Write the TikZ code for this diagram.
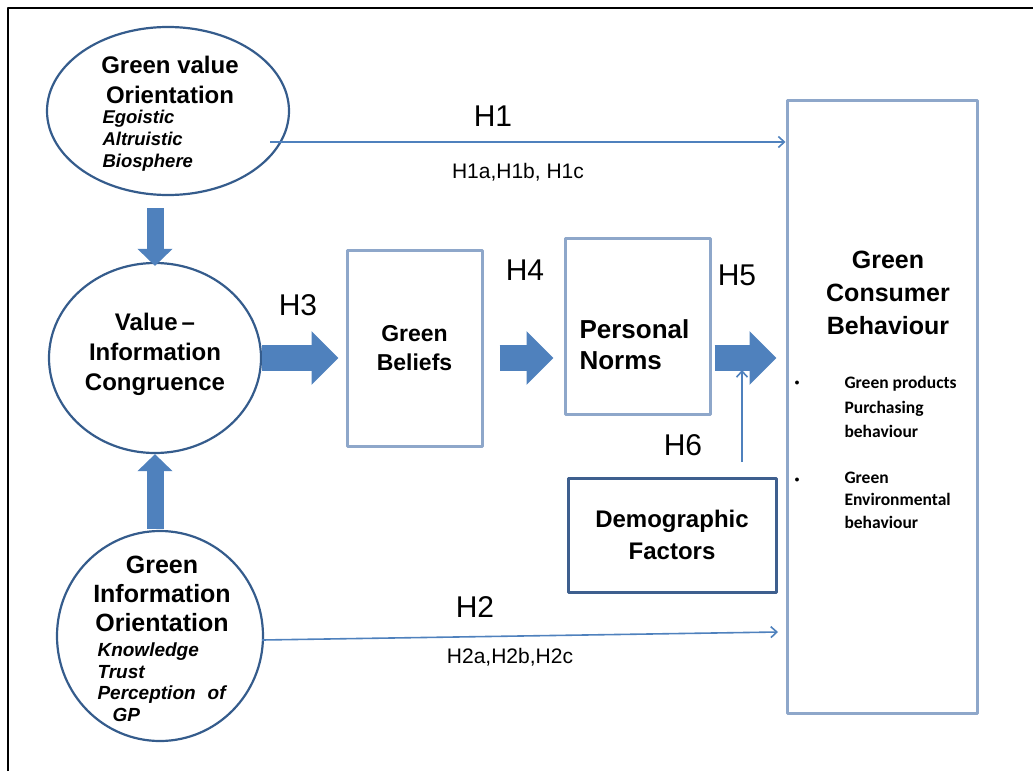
\documentclass[tikz,border=0pt]{standalone}
\usepackage{fontspec}
\setmainfont{Liberation Sans}
\newfontfamily\bulletfont{Carlito}
\usetikzlibrary{arrows.meta,shapes.geometric,positioning}

\definecolor{ovalblue}{HTML}{355C8C}
\definecolor{boxblue}{HTML}{8EA7CA}
\definecolor{arrowblue}{HTML}{4F81BD}
\definecolor{demoblue}{HTML}{3E5F8E}

\begin{document}
\begin{tikzpicture}[x=1pt, y=-1pt, line join=round]
    % Gaya dasar
    \tikzset{
      oval/.style={ellipse, draw=ovalblue, line width=2.2pt, inner sep=0pt},
      box/.style={rectangle, draw=boxblue, line width=3pt, inner sep=0pt},
      title/.style={font=\bfseries\fontsize{24}{30}\selectfont, align=center},
      items/.style={font=\bfseries\itshape\fontsize{18.5}{22}\selectfont, align=left, anchor=west},
      hlabel/.style={font=\fontsize{30}{30}\selectfont},
      sublabel/.style={font=\fontsize{21}{21}\selectfont},
      fat/.style={line width=26pt, draw=arrowblue, -{Triangle[length=27pt 0 0, width=52pt 0 0]}},
      fatv/.style={line width=17pt, draw=arrowblue, -{Triangle[length=17pt 0 0, width=34pt 0 0]}},
      thin/.style={draw=arrowblue, line width=1.6pt, -{Straight Barb[length=6pt, width=11pt]}}
    }
    \useasboundingbox (0,0) rectangle (1033,771);

    % Bingkai
    \draw[line width=2.5pt] (8,771) -- (8,8) -- (1033,8);

    % Elips kiri
    \node[oval, minimum width=242pt, minimum height=168pt] (gvo) at (168,111) {};
    \node[oval, minimum width=212pt, minimum height=190pt] (vic) at (155,358) {};
    \node[oval, minimum width=206pt, minimum height=210pt] (gio) at (160,636) {};

    \node[title] (gvot) at (170,80) {Green value\\Orientation};
    \node[items] (gvoi) at (99,141) {Egoistic\\Altruistic\\Biosphere};
    \node[title] (vict) at (155,354) {Value\,--\\Information\\Congruence};
    \node[title, font=\bfseries\fontsize{25}{29}\selectfont] (giot) at (162,594) {Green\\Information\\Orientation};
    \node[items, font=\bfseries\itshape\fontsize{19}{21.5}\selectfont] (gioi) at (94,682)
      {Knowledge\\Trust\\Perception\hspace{12pt}of\\\hspace*{15pt}GP};

    % Kotak
    \node[box, minimum width=135pt, minimum height=196pt, font=\bfseries\fontsize{23}{29}\selectfont, align=center]
      (gb) at (414.5,348) {Green\\Beliefs};
    \node[box, minimum width=145pt, minimum height=176pt] (pn) at (637.5,326) {};
    \node[font=\bfseries\fontsize{26}{31}\selectfont, align=left, anchor=west] (pnt) at (576,345) {Personal\\Norms};
    \node[box, minimum width=190pt, minimum height=613pt] (gcb) at (882,406.5) {};
    \node[title, font=\bfseries\fontsize{25}{33}\selectfont] (gcbt) at (888,293) {Green\\Consumer\\Behaviour};
    \node[box, draw=demoblue, minimum width=208pt, minimum height=114pt, font=\bfseries\fontsize{24}{32}\selectfont, align=center]
      (demo) at (672,535) {Demographic\\Factors};

    % Butir perilaku
    \node[font=\bfseries\fontsize{10}{10}\selectfont] (b1) at (797,383) {$\bullet$};
    \node[font=\bfseries\fontsize{10}{10}\selectfont] (b2) at (797,480) {$\bullet$};
    \node[anchor=west, align=left, font=\bulletfont\bfseries\fontsize{17.5}{24.5}\selectfont] (b1t) at (841,407)
      {Green products\\Purchasing\\behaviour};
    \node[anchor=west, align=left, font=\bulletfont\bfseries\fontsize{17.5}{22.5}\selectfont] (b2t) at (841,500)
      {Green\\Environmental\\behaviour};

    % Panah tebal
    \draw[fatv, shorten <=12pt, shorten >=-4pt] (gvo.south -| vic.north) -- (vic.north);
    \draw[fatv, shorten <=1pt] (gio.north -| vic.south) -- (vic.south);
    \draw[fat, shorten >=7pt] (vic.east) -- (vic.east -| gb.west);
    \draw[fat, shorten <=16pt, shorten >=10pt] (gb.east |- vic.east) -- (pn.west |- vic.east);
    \draw[fat, shorten <=3pt, shorten >=9pt] (pn.east |- vic.east) -- (gcb.west |- vic.east);

    % Panah tipis
    \coordinate (h1s) at (270,142);
    \coordinate (h2s) at (262,640);
    \coordinate (h2e) at (778,632);
    \coordinate (h6s) at (742,462);
    \coordinate (h6e) at (742,370);
    \draw[thin] (h1s) -- (h1s -| gcb.west);
    \draw[thin] (h2s) -- (h2e);
    \draw[thin] (h6s) -- (h6e);

    % Label hipotesis
    \node[hlabel] (h1) at (493,116) {H1};
    \node[sublabel] (h1x) at (518,172) {H1a,H1b, H1c};
    \node[hlabel] (h2) at (475,607) {H2};
    \node[sublabel] (h2x) at (510,657) {H2a,H2b,H2c};
    \node[hlabel] (h3) at (298,305) {H3};
    \node[hlabel] (h4) at (525,270) {H4};
    \node[hlabel] (h5) at (737,275) {H5};
    \node[hlabel] (h6) at (683,445) {H6};
\end{tikzpicture}
\end{document}
